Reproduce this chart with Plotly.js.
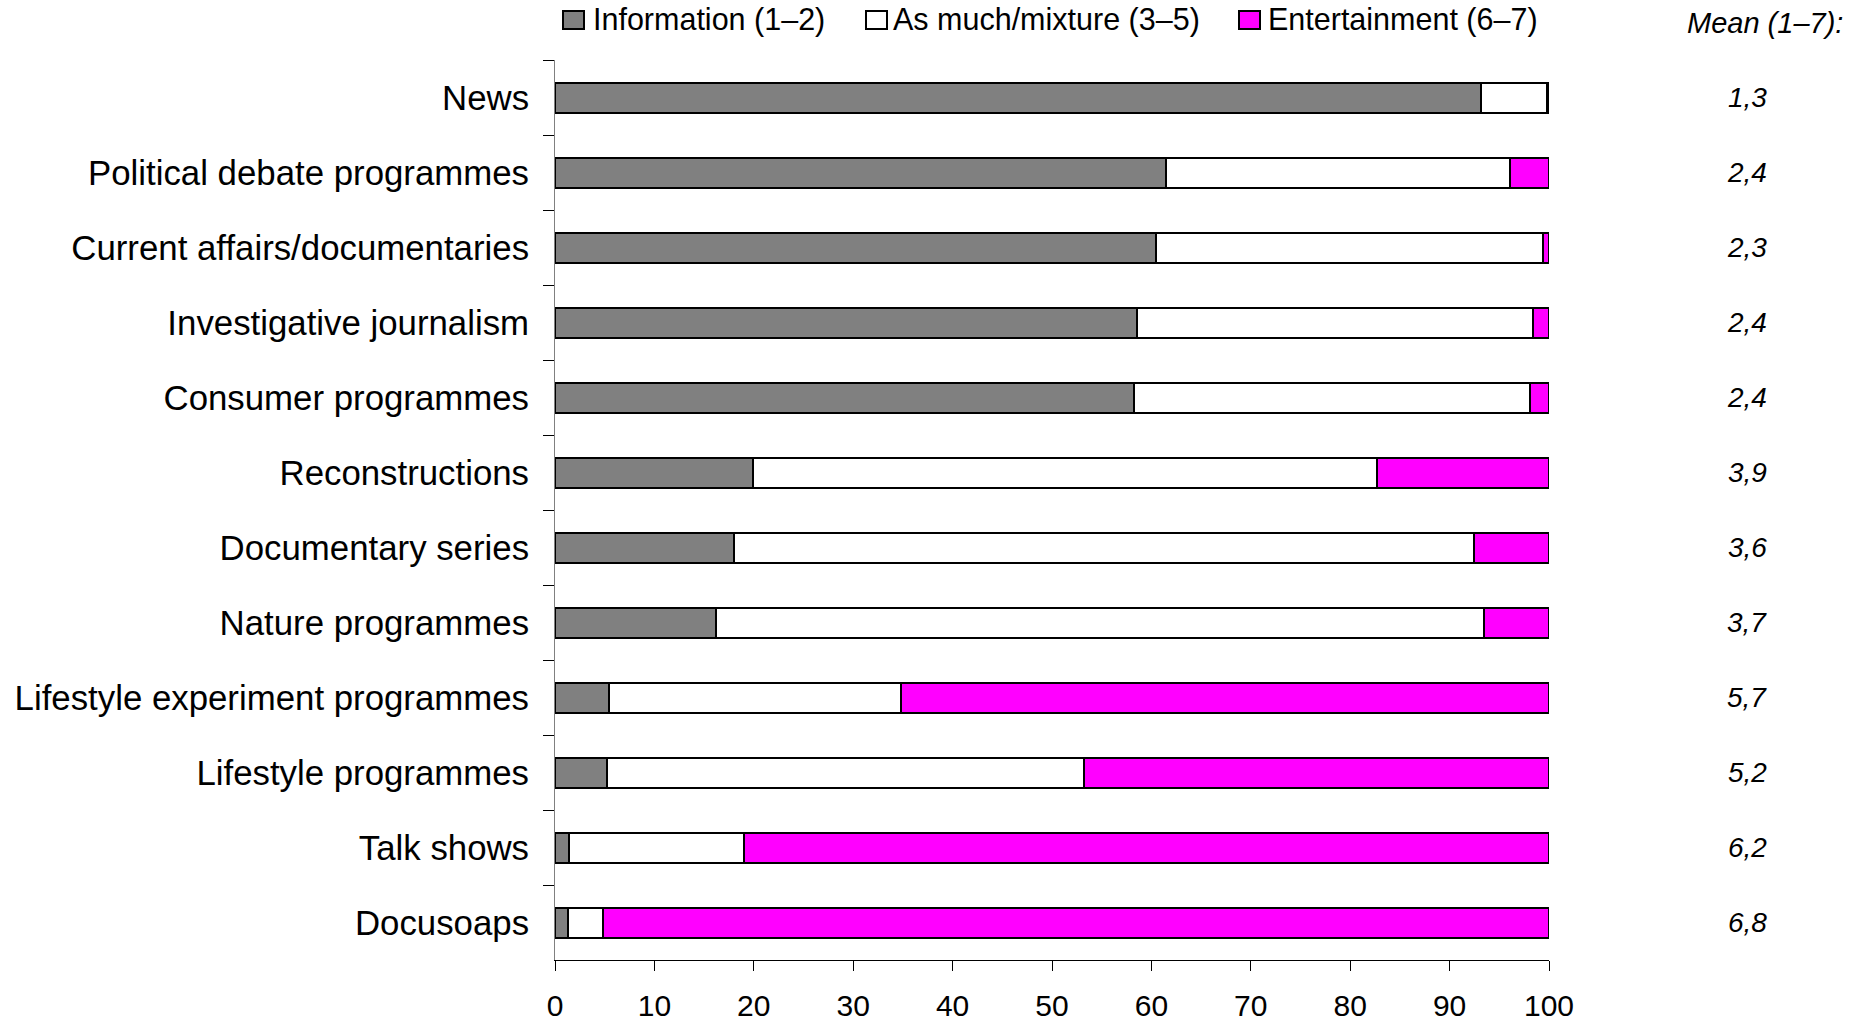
<!DOCTYPE html>
<html>
<head>
<meta charset="utf-8">
<script src="https://cdn.plot.ly/plotly-3.0.1.min.js"></script>
<style>html,body{margin:0;padding:0;background:#fff;}#chart{width:1858px;height:1023px;}</style>
</head>
<body>
<div id="chart"></div>
<script>
const categories = ["News","Political debate programmes","Current affairs/documentaries","Investigative journalism","Consumer programmes","Reconstructions","Documentary series","Nature programmes","Lifestyle experiment programmes","Lifestyle programmes","Talk shows","Docusoaps"];
const information = [93.2,61.5,60.5,58.6,58.2,19.9,18.0,16.2,5.4,5.2,1.4,1.3];
const mixture = [6.6,34.6,38.9,39.8,39.9,62.8,74.5,77.3,29.4,48.0,17.6,3.5];
const entertainment = [0.2,3.9,0.6,1.6,1.9,17.3,7.5,6.5,65.2,46.8,81.0,95.2];
const means = [1.3,2.4,2.3,2.4,2.4,3.9,3.6,3.7,5.7,5.2,6.2,6.8];
const seriesNames = ["Information (1–2)","As much/mixture (3–5)","Entertainment (6–7)"];
const seriesColors = ["#808080","#ffffff","#ff00ff"];
const xTicks = [0,10,20,30,40,50,60,70,80,90,100];
const meanTitle = "Mean (1–7):";

const FONT = "Liberation Sans, Arial, sans-serif";
const W = 1858, H = 1023;
const M = {l: 555, r: 309, t: 60, b: 63};
const PW = W - M.l - M.r, PH = H - M.t - M.b;
const px2x = p => (p - M.l) / PW;
const px2y = p => (H - M.b - p) / PH;

const seriesData = [information, mixture, entertainment];
const traces = seriesData.map((vals, i) => ({
  type: "bar",
  orientation: "h",
  name: seriesNames[i],
  y: categories,
  x: vals,
  marker: {color: seriesColors[i], line: {color: "#000", width: 2}},
  hoverinfo: "skip",
  showlegend: false
}));

// custom legend (boxes + labels), positioned in pixels
const legendBoxLeft = [563, 866, 1239];
const legendTextLeft = [591, 891, 1266];
const shapes = [];
const annotations = [];
seriesNames.forEach((n, i) => {
  shapes.push({type: "rect", xref: "paper", yref: "paper",
    x0: px2x(legendBoxLeft[i]), x1: px2x(legendBoxLeft[i] + 21),
    y0: px2y(29), y1: px2y(11),
    fillcolor: seriesColors[i], line: {color: "#000", width: 2}});
  annotations.push({xref: "paper", yref: "paper", x: px2x(legendTextLeft[i]), y: px2y(20),
    xanchor: "left", yanchor: "middle", text: n, showarrow: false,
    font: {family: FONT, size: 30.5, color: "#000"}});
});

annotations.push({
  xref: "paper", yref: "paper", x: px2x(1845), y: px2y(23), yanchor: "middle", xanchor: "right",
  text: "<i>" + meanTitle + "</i>", showarrow: false,
  font: {family: FONT, size: 29, color: "#000"}
});
categories.forEach((c, i) => {
  annotations.push({
    xref: "paper", yref: "y", x: px2x(1769), y: c, xanchor: "right", yanchor: "middle",
    text: "<i>" + means[i].toFixed(1).replace(".", ",") + "</i>", showarrow: false,
    font: {family: FONT, size: 28, color: "#000"}
  });
});

const layout = {
  width: W, height: H,
  margin: M,
  paper_bgcolor: "#fff", plot_bgcolor: "#fff",
  barmode: "stack", bargap: 0.6,
  showlegend: false,
  font: {family: FONT, color: "#000"},
  xaxis: {range: [0, 100], tickvals: xTicks, ticktext: xTicks.map(String),
    showgrid: false, zeroline: false, showline: true, linecolor: "#000", linewidth: 1,
    ticks: "outside", ticklen: 10, tickcolor: "#000", tickwidth: 1,
    ticklabelstandoff: 9,
    tickfont: {family: FONT, size: 30, color: "#000"}, fixedrange: true},
  yaxis: {type: "category", autorange: "reversed", showgrid: false, zeroline: false,
    showline: true, linecolor: "#808080", linewidth: 1,
    ticks: "outside", tickson: "boundaries", ticklen: 11, tickcolor: "#000", tickwidth: 1,
    ticklabelstandoff: 18,
    tickfont: {family: FONT, size: 34.8, color: "#000"}, fixedrange: true},
  shapes: shapes,
  annotations: annotations
};

Plotly.newPlot("chart", traces, layout, {displayModeBar: false, staticPlot: true});
</script>
</body>
</html>
